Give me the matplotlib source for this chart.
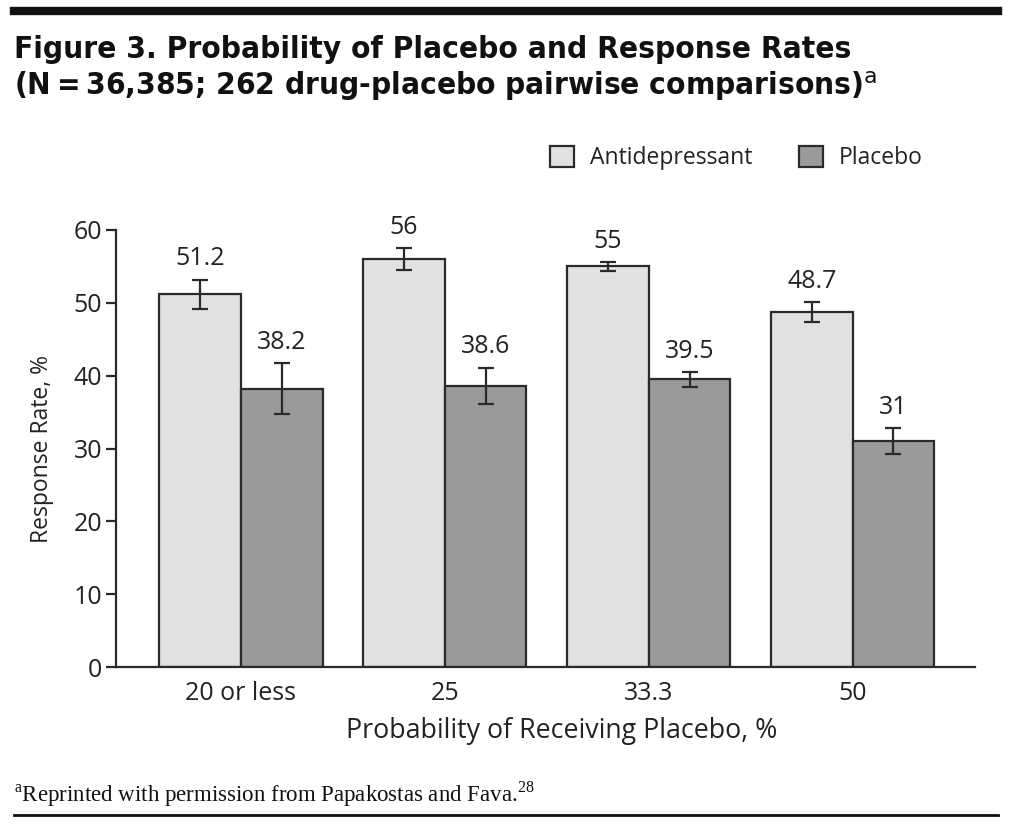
import numpy as np
import matplotlib.pyplot as plt
from matplotlib.lines import Line2D

# data
groups = ['20 or less', '25', '33.3', '50']
antidep = [51.2, 56, 55, 48.7]
placebo = [38.2, 38.6, 39.5, 31]
antidep_err = [2.0, 1.5, 0.6, 1.4]
placebo_err = [3.5, 2.5, 1.0, 1.8]
series_names = ['Antidepressant', 'Placebo']

SANS = 'Open Sans'
DARK = '#2a2a2a'
LIGHT = '#e1e1e1'
MID = '#9a9a9a'
TXT = '#222222'

plt.rcParams['font.family'] = SANS
plt.rcParams['mathtext.fontset'] = 'custom'
plt.rcParams['mathtext.rm'] = 'Liberation Serif'
plt.rcParams['mathtext.sf'] = 'DejaVu Sans'

fig = plt.figure(figsize=(10.12, 8.24), dpi=100)
ax = fig.add_axes([0.1146, 0.1905, 0.8488, 0.5304])

x = np.arange(len(groups))
w = 0.4
ekw = dict(ecolor=DARK, elinewidth=1.6, capsize=6, capthick=1.6)
ax.bar(x - w/2, antidep, w, color=LIGHT, edgecolor=DARK, linewidth=1.6,
       yerr=antidep_err, error_kw=ekw, label=series_names[0], zorder=2)
ax.bar(x + w/2, placebo, w, color=MID, edgecolor=DARK, linewidth=1.6,
       yerr=placebo_err, error_kw=ekw, label=series_names[1], zorder=2)

# value labels above the error bars
for xs, vals, errs in [(x - w/2, antidep, antidep_err), (x + w/2, placebo, placebo_err)]:
    for xi, v, e in zip(xs, vals, errs):
        ax.annotate('%g' % v, (xi, v + e), xytext=(0, 6), textcoords='offset points',
                    ha='center', va='bottom', fontsize=18, color=TXT)

ax.set_xlim(-0.613, 3.6)
ax.set_ylim(0, 60)
ax.set_yticks(range(0, 61, 10))
ax.set_xticks(x)
ax.set_xticklabels(groups)
for s in ['top', 'right']:
    ax.spines[s].set_visible(False)
for s in ['left', 'bottom']:
    ax.spines[s].set_linewidth(1.6)
    ax.spines[s].set_color(DARK)
ax.tick_params(axis='y', length=7, width=1.6, color=DARK, labelsize=18, pad=3, labelcolor=TXT)
ax.tick_params(axis='x', length=0, labelsize=18, pad=10, labelcolor=TXT)
ax.set_ylabel('Response Rate, %', fontsize=16.5, color=TXT, labelpad=14)
ax.set_xlabel('Probability of Receiving Placebo, %', fontsize=19.3, color=TXT, labelpad=10)
ax.xaxis.set_label_coords(0.519, -0.115)

leg = ax.legend(loc='lower right', bbox_to_anchor=(0.963, 1.09), ncol=2, frameon=False,
                fontsize=16.5, handlelength=1.05, handleheight=1.05, columnspacing=2.0,
                handletextpad=0.7)
for t in leg.get_texts():
    t.set_color(TXT)

# top rule, title, footnote, bottom rule
fig.add_artist(Line2D([0.014, 0.986], [0.987, 0.987], color='#111111', lw=6))
fig.text(0.014, 0.957, 'Figure 3. Probability of Placebo and Response Rates\n'
         '(N\u2009=\u200936,385; 262 drug-placebo pairwise comparisons)$^{\\mathsf{a}}$',
         ha='left', va='top', fontsize=22.6, fontweight='bold', fontstretch='condensed',
         family='DejaVu Sans', linespacing=1.17, color='#111111')
fig.text(0.014, 0.018, '$^{\\mathrm{a}}$Reprinted with permission from Papakostas and Fava.$^{\\mathrm{28}}$',
         ha='left', va='bottom', fontsize=16.5, family='Liberation Serif', color='#111111')
fig.add_artist(Line2D([0.014, 0.986], [0.011, 0.011], color='#111111', lw=2))

fig.savefig('out.png', dpi=100)
